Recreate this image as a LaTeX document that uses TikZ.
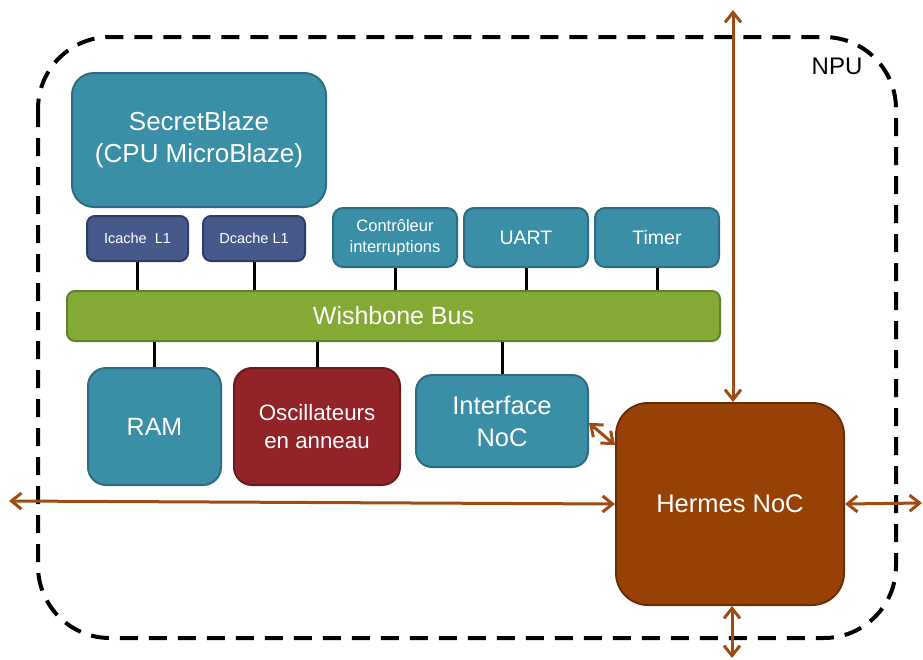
\documentclass[tikz,border=0pt]{standalone}
\usepackage{fontspec}
\setmainfont{Liberation Sans}
\usetikzlibrary{arrows.meta}
\definecolor{teal1}{HTML}{3A8FA6}
\definecolor{teal2}{HTML}{2C6D7F}
\definecolor{navy1}{HTML}{47598A}
\definecolor{navy2}{HTML}{2F3D66}
\definecolor{green1}{HTML}{84A934}
\definecolor{green2}{HTML}{63812A}
\definecolor{red1}{HTML}{922328}
\definecolor{red2}{HTML}{6A1A1E}
\definecolor{brown1}{HTML}{974106}
\definecolor{brown2}{HTML}{6C2F05}
\definecolor{arrc}{HTML}{9E4C14}
\tikzset{
  blk/.style={draw, line width=2pt, text=white, align=center, inner sep=0pt},
  tealbox/.style={blk, fill=teal1, draw=teal2},
  navybox/.style={blk, fill=navy1, draw=navy2},
  wire/.style={line width=3pt, black},
  arr/.style={line width=3pt, arrc, {Straight Barb[length=10pt,width=16pt]}-{Straight Barb[length=10pt,width=16pt]}},
}
\begin{document}
\begin{tikzpicture}[x=1pt,y=-1pt]
\useasboundingbox (0,0) rectangle (923,659);
% NPU boundary
\draw[line width=4pt, dash pattern=on 18pt off 11pt, rounded corners=72pt] (38,37) rectangle (896,638);
\node[font=\fontsize{24}{28}\selectfont, inner sep=0pt] (npu) at (837,66) {NPU};
% blocks
\node[tealbox, minimum width=254pt, minimum height=134pt, rounded corners=22pt, font=\fontsize{26}{32}\selectfont] (sb) at (199,140) {SecretBlaze\\(CPU MicroBlaze)};
\node[navybox, minimum width=101pt, minimum height=45pt, rounded corners=8pt, font=\fontsize{14.5}{17}\selectfont] (ic) at (137.5,238.5) {Icache~ L1};
\node[navybox, minimum width=102pt, minimum height=45pt, rounded corners=8pt, font=\fontsize{14.5}{17}\selectfont] (dc) at (254,238.5) {Dcache L1};
\node[tealbox, minimum width=124pt, minimum height=59pt, rounded corners=10pt, font=\fontsize{16.5}{21}\selectfont] (ctrl) at (395,237.5) {Contrôleur\\interruptions};
\node[tealbox, minimum width=124pt, minimum height=59pt, rounded corners=10pt, font=\fontsize{19.5}{23}\selectfont] (uart) at (526,237.5) {UART};
\node[tealbox, minimum width=124pt, minimum height=59pt, rounded corners=10pt, font=\fontsize{19.5}{23}\selectfont] (timer) at (657,237.5) {Timer};
\node[blk, fill=green1, draw=green2, minimum width=653pt, minimum height=50pt, rounded corners=8pt, font=\fontsize{25}{30}\selectfont] (bus) at (393.5,316) {Wishbone Bus};
\node[tealbox, minimum width=133pt, minimum height=117pt, rounded corners=18pt, font=\fontsize{25}{30}\selectfont] (ram) at (154.5,426.5) {RAM};
\node[blk, fill=red1, draw=red2, minimum width=166pt, minimum height=117pt, rounded corners=18pt, font=\fontsize{22.3}{27.5}\selectfont] (osc) at (317,426.5) {Oscillateurs\\en anneau};
\node[tealbox, minimum width=172pt, minimum height=92pt, rounded corners=16pt, font=\fontsize{25.5}{32}\selectfont] (ifn) at (502,421) {Interface\\NoC};
\node[blk, fill=brown1, draw=brown2, minimum width=228pt, minimum height=202pt, rounded corners=32pt, font=\fontsize{25.5}{30}\selectfont] (hermes) at (730,504) {Hermes NoC};
% bus wires
\foreach \n in {ic,dc,ctrl,uart,timer}{
  \draw[wire] (\n.south) -- (\n.south |- bus.north);
}
\foreach \n in {ram,osc,ifn}{
  \draw[wire] (\n.north) -- (\n.north |- bus.south);
}
% NoC links
\coordinate (top) at (733,10);
\coordinate (bot) at (732,658);
\coordinate (lft) at (9,501);
\coordinate (rgt) at (922,503);
\coordinate (ifp) at (589,423);
\coordinate (hp) at (617,445);
\draw[arr] (top) -- (hermes.north -| top);
\draw[arr] (hermes.south -| bot) -- (bot);
\draw[arr] (lft) -- (hermes.west);
\draw[arr] (hermes.east) -- (rgt);
\draw[arr] (ifn.east |- ifp) -- (hermes.west |- hp);
\end{tikzpicture}
\end{document}
